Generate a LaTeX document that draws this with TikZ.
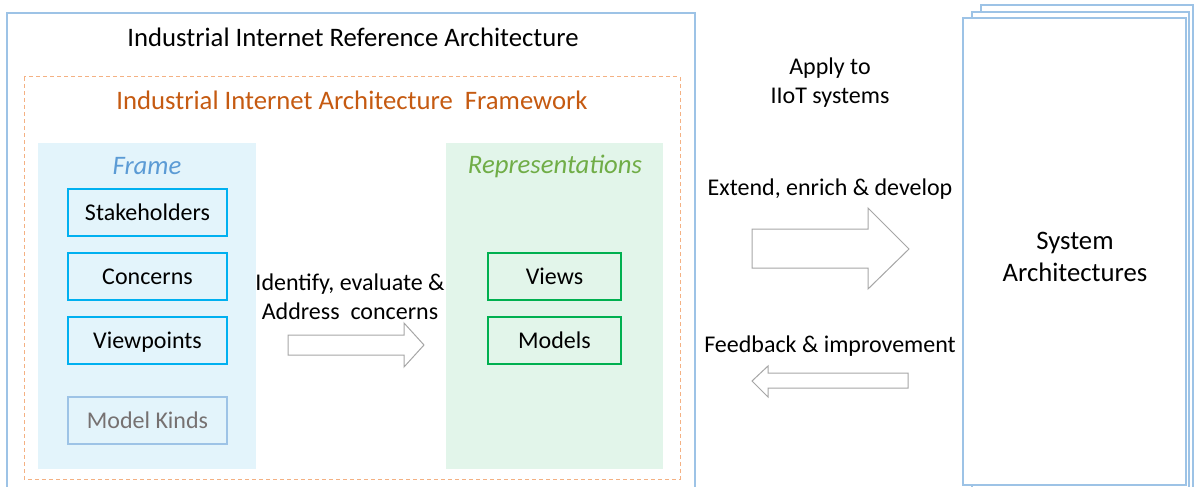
\documentclass[tikz,border=0pt]{standalone}
\usepackage{fontspec}
\setmainfont{Carlito}
\usetikzlibrary{positioning}
\definecolor{lblue}{HTML}{9DC3E6}
\definecolor{orng}{HTML}{F4B183}
\definecolor{dorng}{HTML}{C55A11}
\definecolor{cyanb}{HTML}{00B0F0}
\definecolor{gbord}{HTML}{00B050}
\definecolor{fblue}{HTML}{E3F4FB}
\definecolor{fgreen}{HTML}{E2F5EA}
\definecolor{tblue}{HTML}{5B9BD5}
\definecolor{tgreen}{HTML}{70AD47}
\definecolor{agray}{HTML}{A6A6A6}
\definecolor{mgray}{HTML}{767171}
\tikzset{
    every node/.style={inner sep=0pt, font=\fontsize{24}{29}\selectfont, align=center}
}
\tikzset{big/.style={font=\fontsize{26.7}{32}\selectfont}}
\tikzset{bigit/.style={font=\fontsize{26.7}{32}\selectfont\itshape}}
\tikzset{item/.style={draw=cyanb, line width=2pt, minimum width=159pt, minimum height=47pt, text height=18pt, text depth=2pt}}
\tikzset{rep/.style={item, draw=gbord, minimum width=133pt}}
\tikzset{blk/.style={draw=agray, line width=1pt, fill=white}}

\begin{document}
\begin{tikzpicture}[x=1pt, y=-1pt]
  \useasboundingbox (0,0) rectangle (1195,487);

  % reference architecture
  \draw[lblue, line width=1.5pt] (7,13) rectangle (695,500);
  \draw[orng, line width=1pt, dash pattern=on 4pt off 3pt] (24,77) rectangle (680,479);
  \fill[fblue] (38,143) rectangle (256,469);
  \fill[fgreen] (446,143) rectangle (663,469);

  \node (iira) [big] at (353,37) {Industrial Internet Reference Architecture};
  \node (iiaf) [big, text=dorng] at (352,100) {Industrial Internet Architecture\ \ Framework};

  \node (frame) [bigit, text=tblue] at (147,166) {Frame};
  \node (sh) [item] at (147.5,212.5) {Stakeholders};
  \node (co) [item] at (147.5,276.5) {Concerns};
  \node (vp) [item] at (147.5,340.5) {Viewpoints};
  \node (mk) [item, draw=lblue, text=mgray] at (147.5,420.5) {Model Kinds};

  \node (repr) [bigit, text=tgreen] at (555,166) {Representations};
  \node (vw) [rep] at (554.5,276.5) {Views};
  \node (md) [rep] at (554.5,340.5) {Models};

  \node (idn) at (350,297) {Identify, evaluate \&\\Address\ \ concerns};
  \draw[blk] (288,335) -- (404,335) -- (404,323) -- (424,345) -- (404,367) -- (404,355) -- (288,355) -- cycle;

  % system architectures
  \draw[lblue, line width=1.5pt, fill=white] (981,5) rectangle (1193,500);
  \draw[lblue, line width=1.5pt, fill=white] (972,12) rectangle (1189,500);
  \draw[lblue, line width=1.5pt, fill=white] (963,18) rectangle (1186,485);
  \node (sa) [big] at (1075,257) {System\\Architectures};

  \node (apply) at (830,83) {Apply to\\IIoT systems};
  \node (ext) at (830,189) {Extend, enrich \& develop};
  \draw[blk] (752,229) -- (868,229) -- (868,208) -- (909,249) -- (868,289) -- (868,268) -- (752,268) -- cycle;
  \node (fb) at (830,346) {Feedback \& improvement};
  \draw[blk] (908,373) -- (768,373) -- (768,366) -- (752,381) -- (768,397) -- (768,388) -- (908,388) -- cycle;
\end{tikzpicture}
\end{document}
